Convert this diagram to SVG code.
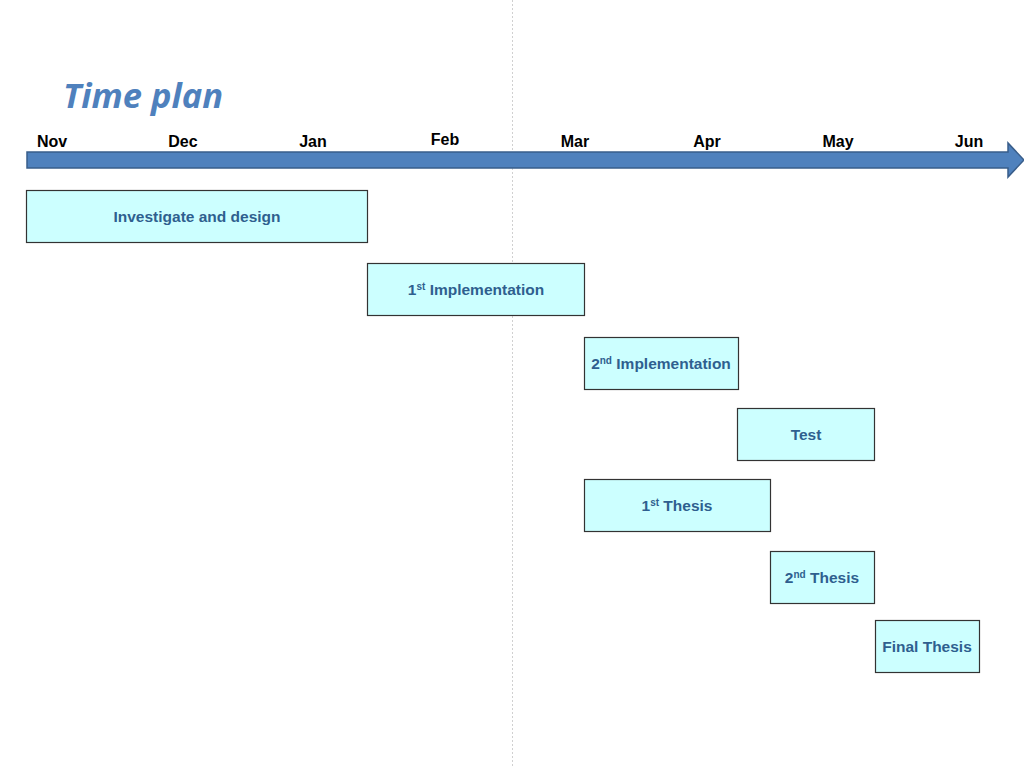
<svg xmlns="http://www.w3.org/2000/svg" width="1024" height="768" viewBox="0 0 1024 768">
<style>
.month{font-family:"Liberation Sans",Arial,sans-serif;font-weight:bold;font-size:16px;fill:#000;text-anchor:middle}
.box rect{fill:#CCFFFF;stroke:#333;stroke-width:1.2}
.box text{font-family:"Liberation Sans",Arial,sans-serif;font-weight:bold;font-size:15.5px;fill:#2F5F8F;text-anchor:middle}
.sup{font-size:10px}
</style>
<rect width="1024" height="768" fill="#fff"/>
<line x1="512.5" y1="0" x2="512.5" y2="768" stroke="#d0d0d0" stroke-width="1" stroke-dasharray="2,2"/>
<text x="63" y="108" font-family="Open Sans,sans-serif" font-weight="bold" font-style="italic" font-size="34.5" fill="#4F81BD">Time plan</text>
<g id="timeline">
<path d="M27,152 L1008,152 L1008,143 L1024,160 L1008,177 L1008,168 L27,168 Z" fill="#4F81BD" stroke="#385D8A" stroke-width="1.5"/>
<text class="month" x="52" y="147">Nov</text>
<text class="month" x="183" y="147">Dec</text>
<text class="month" x="313" y="147">Jan</text>
<text class="month" x="445" y="145">Feb</text>
<text class="month" x="575" y="147">Mar</text>
<text class="month" x="707" y="147">Apr</text>
<text class="month" x="838" y="147">May</text>
<text class="month" x="969" y="147">Jun</text>
</g>
<g id="connectors"></g>
<g id="investigate" class="box"><rect x="26.5" y="190.5" width="341" height="52"/><text x="197" y="222">Investigate and design</text></g>
<g id="impl1" class="box"><rect x="367.5" y="263.5" width="217" height="52"/><text x="476" y="295">1<tspan class="sup" dy="-5">st</tspan><tspan dy="5"> Implementation</tspan></text></g>
<g id="impl2" class="box"><rect x="584.5" y="337.5" width="154" height="52"/><text x="661" y="369">2<tspan class="sup" dy="-5">nd</tspan><tspan dy="5"> Implementation</tspan></text></g>
<g id="test" class="box"><rect x="737.5" y="408.5" width="137" height="52"/><text x="806" y="440">Test</text></g>
<g id="thesis1" class="box"><rect x="584.5" y="479.5" width="186" height="52"/><text x="677" y="511">1<tspan class="sup" dy="-5">st</tspan><tspan dy="5"> Thesis</tspan></text></g>
<g id="thesis2" class="box"><rect x="770.5" y="551.5" width="104" height="52"/><text x="822" y="583">2<tspan class="sup" dy="-5">nd</tspan><tspan dy="5"> Thesis</tspan></text></g>
<g id="final" class="box"><rect x="875.5" y="620.5" width="104" height="52"/><text x="927" y="652">Final Thesis</text></g>
</svg>
